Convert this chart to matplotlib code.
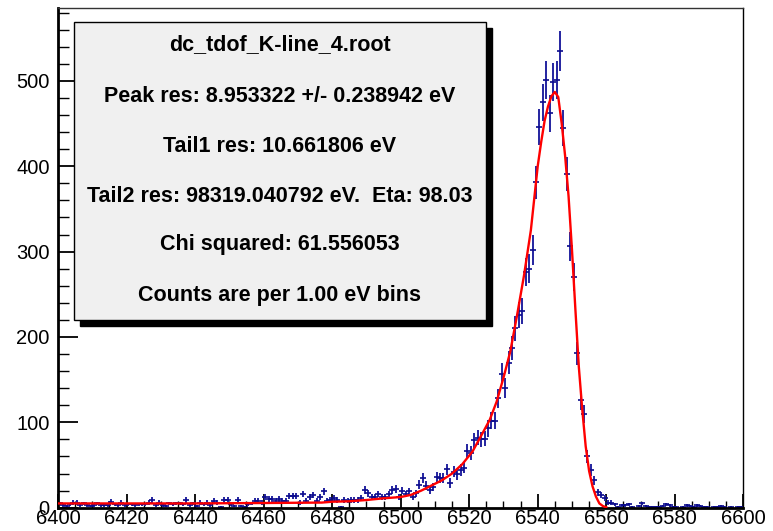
import numpy as np
import matplotlib
matplotlib.use("Agg")
import matplotlib.pyplot as plt
from matplotlib.patches import Rectangle
from matplotlib.ticker import MultipleLocator

plt.rcParams['font.family'] = ['Liberation Sans', 'DejaVu Sans']

# Histogramme : bins de 1 eV entre 6400 et 6600 eV
bin_edges_lo = 6400
bin_width = 1.0
counts = [
    5, 3, 2, 4, 6, 6, 3, 5, 3, 2,
    3, 5, 3, 3, 3, 7, 4, 3, 6, 3,
    4, 4, 3, 4, 4, 4, 6, 9, 3, 6,
    3, 2, 5, 4, 5, 5, 4, 9, 3, 5,
    2, 6, 4, 6, 3, 8, 6, 1, 9, 9,
    4, 2, 9, 2, 1, 4, 5, 8, 8, 6,
    12, 10, 10, 8, 10, 8, 8, 14, 14, 14,
    6, 16, 8, 13, 15, 8, 12, 19, 8, 9,
    11, 9, 1, 9, 8, 9, 9, 9, 11, 21,
    17, 12, 12, 16, 12, 12, 16, 21, 22, 12,
    20, 16, 19, 13, 17, 27, 35, 26, 21, 24,
    36, 35, 35, 45, 29, 42, 39, 44, 47, 66,
    64, 79, 82, 80, 81, 93, 102, 102, 128, 157,
    140, 170, 187, 210, 226, 230, 276, 280, 302, 381,
    446, 475, 501, 462, 499, 501, 535, 445, 391, 306,
    270, 181, 126, 110, 60, 44, 32, 18, 15, 11,
    6, 6, 4, 1, 3, 3, 4, 1, 0, 2,
    5, 2, 1, 1, 1, 1, 2, 4, 3, 1,
    1, 0, 1, 3, 2, 1, 3, 2, 1, 1,
    0, 1, 1, 2, 1, 0, 1, 0, 1, 1,
]

# Courbe d'ajustement
fit_energy = [6400, 6420, 6440, 6460, 6477, 6480, 6485, 6490, 6495, 6500,
              6503, 6506, 6509, 6512, 6515, 6518, 6521, 6524, 6526, 6528,
              6530, 6532, 6534, 6536, 6538, 6540, 6541, 6542, 6543, 6544,
              6545, 6546, 6547, 6548, 6549, 6550, 6551, 6552, 6553, 6554,
              6555, 6556, 6557, 6558, 6559, 6560]
fit_counts = [5, 5, 5, 5.5, 6, 7, 7.5, 9, 11, 12.5,
              15, 20, 26, 32, 40, 51, 66, 88, 103, 124,
              152, 183, 226, 272, 325, 400, 428, 453, 470, 482,
              487, 481, 450, 412, 365, 302, 232, 165, 115, 72,
              43, 25, 13, 5, 2, 0.5]

info_lines = [
    "dc_tdof_K-line_4.root",
    "Peak res: 8.953322 +/- 0.238942 eV",
    "Tail1 res: 10.661806 eV",
    "Tail2 res: 98319.040792 eV.  Eta: 98.03",
    "Chi squared: 61.556053",
    "Counts are per 1.00 eV bins",
]

W, H = 773, 531
fig = plt.figure(figsize=(W / 100, H / 100), dpi=100)
ax = fig.add_axes([58 / W, 1 - 507.7 / H, (743.3 - 58) / W, (507.7 - 8.3) / H])

c = np.array(counts, dtype=float)
x = bin_edges_lo + bin_width * (np.arange(len(c)) + 0.5)
m = c > 0
ax.errorbar(x[m], c[m], yerr=np.sqrt(c[m]), fmt='_', color='#0a0a8c',
            ecolor='#2424a0', elinewidth=1.4, markersize=4, mew=1.2,
            capsize=0, zorder=2)
ax.plot(fit_energy, fit_counts, color='#ff0000', lw=1.7, zorder=3)

ax.set_xlim(6400, 6600)
ax.set_ylim(0, 585)
ax.xaxis.set_major_locator(MultipleLocator(20))
ax.xaxis.set_minor_locator(MultipleLocator(5))
ax.yaxis.set_major_locator(MultipleLocator(100))
ax.yaxis.set_minor_locator(MultipleLocator(20))

ax.tick_params(axis='x', which='major', direction='in', length=10, width=1.3,
               labelsize=14.5, pad=1)
ax.tick_params(axis='x', which='minor', direction='in', length=5, width=1.0)
ax.tick_params(axis='y', which='major', direction='in', length=14.5, width=1.3,
               labelsize=14.5, pad=6)
ax.tick_params(axis='y', which='minor', direction='in', length=8, width=1.0)
ax.tick_params(top=False, right=False, which='both')

ax.spines['bottom'].set_linewidth(2.0)
ax.spines['left'].set_linewidth(2.0)
ax.spines['top'].set_linewidth(1.0)
ax.spines['right'].set_linewidth(1.0)
ax.spines['top'].set_color('#333333')

# Boîte d'informations avec ombre
bx0, bx1, by0, by1 = 74, 486, 21.7, 320
sh = 6
fig.patches.append(Rectangle(((bx0 + sh) / W, 1 - (by1 + sh) / H),
                             (bx1 - bx0) / W, (by1 - by0) / H,
                             transform=fig.transFigure, facecolor='black',
                             edgecolor='black', zorder=5))
fig.patches.append(Rectangle((bx0 / W, 1 - by1 / H), (bx1 - bx0) / W,
                             (by1 - by0) / H, transform=fig.transFigure,
                             facecolor='#f0f0f0', edgecolor='black', lw=1.0,
                             zorder=6))
line_y = [45, 97, 146.7, 196, 245, 295]
for txt, yy in zip(info_lines, line_y):
    fig.text((bx0 + bx1) / 2 / W, 1 - yy / H, txt, ha='center', va='center',
             fontsize=15.5, fontweight='bold', zorder=7)

fig.savefig("out.png", dpi=100)
